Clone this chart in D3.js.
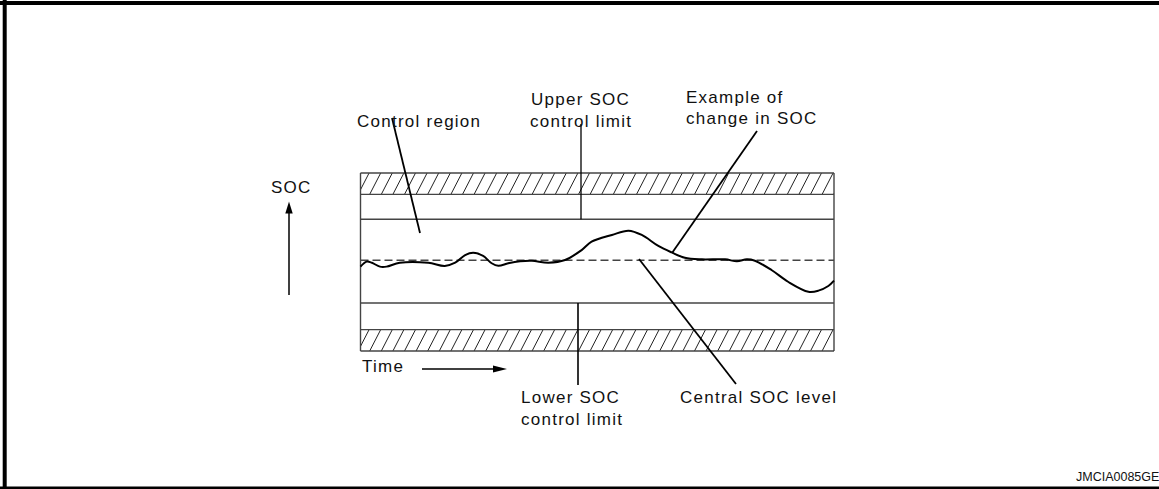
<!DOCTYPE html>
<html>
<head>
<meta charset="utf-8">
<script src="https://cdn.jsdelivr.net/npm/d3@7"></script>
<style>
  html, body { margin: 0; padding: 0; background: #fff; }
  svg { display: block; }
  text { font-family: "Liberation Sans", Arial, sans-serif; fill: #111; }
</style>
</head>
<body>
<div id="root"></div>
<script>
// SOC levels (0 = bottom of lower hatched band, 100 = top of upper hatched band)
const levelNames = ['lowerHatchBottom','lowerHatchTop','lowerLimit','central','upperLimit','upperHatchBottom','upperHatchTop'];
const levelValues = [0, 12, 27, 51, 74, 88, 100];

// example of change in SOC
const timeValues = [0,1.3,2.4,4.1,5.5,8.3,14.3,17.8,20.0,22.1,23.8,25.9,27.7,29.1,31.2,33.7,36.2,39.7,43.2,46.7,48.8,53.1,56.6,59.4,62.9,65.7,68.5,72.1,77.0,79.5,81.6,83.3,86.8,90.3,94.6,96.7,98.8,100];
const socValues  = [47.4,50.2,49.6,47.4,47.4,49.6,49.6,47.8,49.6,53.9,55.2,53.4,49.3,47.9,49.3,50.4,50.7,49.6,51.1,56.7,61.4,65.2,67.6,65.2,59.0,55.4,52.4,51.5,51.5,50.4,51.5,50.7,45.5,38.9,33.3,33.9,36.5,39.5];

const width = 1159, height = 489;
const box = [360.5, 173, 834, 351]; // left, top, right, bottom

const svg = d3.select('#root').append('svg')
              .attr('width', width)
              .attr('height', height);

const x = d3.scaleLinear().domain([0, 100]).range([box[0], box[2]]);
const y = d3.scaleLinear().domain([0, 100]).range([box[3], box[1]]);
const lv = {};
levelNames.forEach((n, i) => lv[n] = levelValues[i]);

// frame
svg.append('line').attr('x1', 0).attr('x2', width).attr('y1', 3).attr('y2', 3)
   .attr('stroke', '#000').attr('stroke-width', 4);
svg.append('line').attr('x1', 4.7).attr('x2', 4.7).attr('y1', 0).attr('y2', 489)
   .attr('stroke', '#000').attr('stroke-width', 4);
svg.append('line').attr('x1', 0).attr('x2', width).attr('y1', 487.7).attr('y2', 487.7)
   .attr('stroke', '#000').attr('stroke-width', 2.6);

// hatched bands
const bands = [[lv.lowerHatchBottom, lv.lowerHatchTop], [lv.upperHatchBottom, lv.upperHatchTop]];
const defs = svg.append('defs');
bands.forEach((b, i) => {
  defs.append('clipPath').attr('id', 'clip' + i)
      .append('rect')
      .attr('x', x(0)).attr('y', y(b[1]))
      .attr('width', x(100) - x(0)).attr('height', y(b[0]) - y(b[1]));
  const g = svg.append('g').attr('clip-path', `url(#clip${i})`);
  const top = y(b[1]), bot = y(b[0]);
  const offs = d3.range(x(0) - 14, x(100) + 4, 11.6);
  g.selectAll('line').data(offs).enter().append('line')
   .attr('x1', d => d).attr('y1', bot)
   .attr('x2', d => d + 11).attr('y2', top)
   .attr('stroke', '#222').attr('stroke-width', 1);
});

// horizontal outlines
const outline = svg.append('g').attr('stroke', '#444').attr('stroke-width', 1.4);
[lv.lowerHatchBottom, lv.lowerHatchTop, lv.lowerLimit, lv.upperLimit, lv.upperHatchBottom, lv.upperHatchTop]
  .forEach(v => {
    outline.append('line').attr('x1', x(0)).attr('x2', x(100)).attr('y1', y(v)).attr('y2', y(v));
  });
outline.append('line').attr('x1', x(0)).attr('x2', x(0)).attr('y1', y(0)).attr('y2', y(100));
outline.append('line').attr('x1', x(100)).attr('x2', x(100)).attr('y1', y(0)).attr('y2', y(100));

// central SOC level (dashed)
svg.append('line')
   .attr('x1', x(0)).attr('x2', x(100))
   .attr('y1', y(lv.central)).attr('y2', y(lv.central))
   .attr('stroke', '#444').attr('stroke-width', 1.4)
   .attr('stroke-dasharray', '8,4');

// SOC curve
const pts = timeValues.map((t, i) => [t, socValues[i]]);
svg.append('path')
   .datum(pts)
   .attr('fill', 'none')
   .attr('stroke', '#000')
   .attr('stroke-width', 2)
   .attr('d', d3.line().x(d => x(d[0])).y(d => y(d[1])).curve(d3.curveCatmullRom));

// leader lines
const leaders = [
  [392, 118, 420, 233, 1.8],
  [581, 124, 581, y(lv.upperLimit), 1.3],
  [757, 131, 672, 253, 1.8],
  [578, y(lv.lowerLimit), 578, 385, 1.6],
  [639, 259, 736, 384, 1.8]
];
svg.append('g').selectAll('line').data(leaders).enter().append('line')
   .attr('x1', d => d[0]).attr('y1', d => d[1])
   .attr('x2', d => d[2]).attr('y2', d => d[3])
   .attr('stroke', '#000').attr('stroke-width', d => d[4]);

// SOC axis arrow
svg.append('line').attr('x1', 289).attr('x2', 289).attr('y1', 295).attr('y2', 212)
   .attr('stroke', '#000').attr('stroke-width', 1.5);
svg.append('path').attr('d', 'M289,201.5 L285.3,213.5 L292.7,213.5 Z').attr('fill', '#000');

// time arrow
svg.append('line').attr('x1', 422).attr('x2', 495).attr('y1', 369).attr('y2', 369)
   .attr('stroke', '#000').attr('stroke-width', 1.3);
svg.append('path').attr('d', 'M507,369 L493,365.5 L493,372.5 Z').attr('fill', '#000');

// labels
const labels = [
  ['SOC', 271, 193],
  ['Control region', 357, 127],
  ['Upper SOC', 531, 105],
  ['control limit', 530, 127],
  ['Example of', 686, 103],
  ['change in SOC', 686, 124],
  ['Time', 362, 372],
  ['Lower SOC', 521, 403],
  ['control limit', 521, 425],
  ['Central SOC level', 680, 403]
];
svg.append('g').selectAll('text').data(labels).enter().append('text')
   .attr('x', d => d[1]).attr('y', d => d[2])
   .style('font-size', '17px')
   .style('letter-spacing', '1.25px')
   .text(d => d[0]);

svg.append('text')
   .attr('x', 1076).attr('y', 481)
   .style('font-size', '12.5px')
   .text('JMCIA0085GE');
</script>
</body>
</html>
